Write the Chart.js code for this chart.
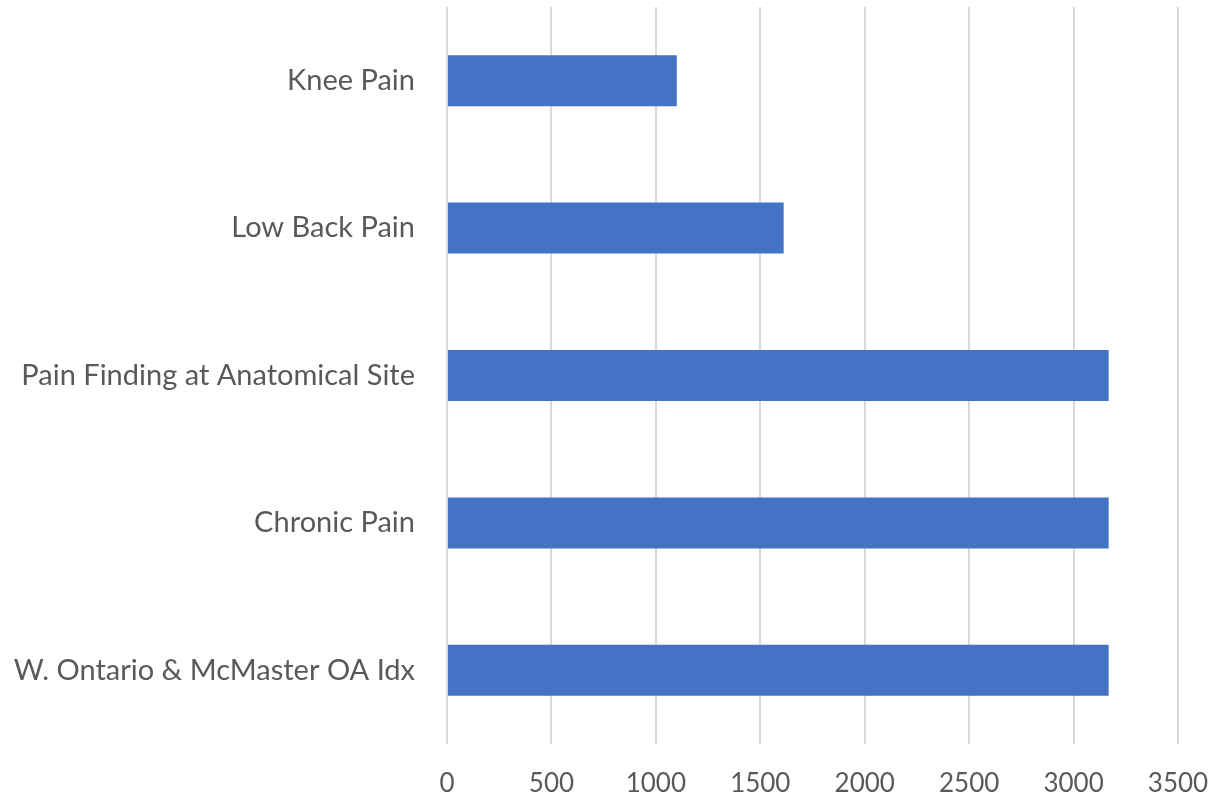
<!DOCTYPE html>
<html>
<head>
<meta charset="utf-8">
<script src="https://cdn.jsdelivr.net/npm/chart.js@4"></script>
<style>
	html, body { margin: 0; padding: 0; background: #fff; }
	#wrap { width: 1217px; height: 799px; }
</style>
</head>
<body>
<div id="wrap"><canvas id="chart" width="1217" height="799"></canvas></div>
<script>
var categories = ["Knee Pain", "Low Back Pain", "Pain Finding at Anatomical Site", "Chronic Pain", "W. Ontario & McMaster OA Idx"]; //категории
var values = [1100, 1612, 3168, 3168, 3168];	//значения столбцов
var xTicks = [0, 500, 1000, 1500, 2000, 2500, 3000, 3500];	//метки оси X

var textColor = "#595959";
var family = "Lato, 'Open Sans', sans-serif";

var ctx = document.getElementById("chart").getContext("2d");
var myChart = new Chart(ctx, {
	type: "bar",
	data: {
		labels: categories,
		datasets: [{
			data: values,
			backgroundColor: "#4472C4",
			borderWidth: 0,
			categoryPercentage: 1,
			barPercentage: 0.346
		}]
	},
	options: {
		indexAxis: "y",
		responsive: false,
		animation: false,
		layout: { padding: { top: 7, right: 39, left: 0, bottom: 0 } },
		plugins: { legend: { display: false }, tooltip: { enabled: false } },
		scales: {
			x: {
				min: 0,
				max: 3500,
				afterBuildTicks: function (scale) { scale.ticks = xTicks.map(function (v) { return { value: v }; }); },
				afterFit: function (scale) {	//фиксируем высоту оси и убираем лишние отступы
					scale.height = 55;
					scale.paddingLeft = 0;
					scale.paddingRight = 0;
				},
				grid: { color: "#d9d9d9", lineWidth: 2, drawTicks: false },
				border: { display: false },
				ticks: {
					color: textColor,
					font: { family: family, size: 26 },
					padding: 24,
					maxRotation: 0,
					callback: function (v) { return String(v); }
				}
			},
			y: {
				afterFit: function (scale) {
					scale.width = 447;
					scale.paddingTop = 0;
					scale.paddingBottom = 0;
				},
				grid: { display: false },
				border: { display: false },
				ticks: { color: textColor, font: { family: family, size: 29 }, padding: 24 }
			}
		}
	}
});
</script>
</body>
</html>
